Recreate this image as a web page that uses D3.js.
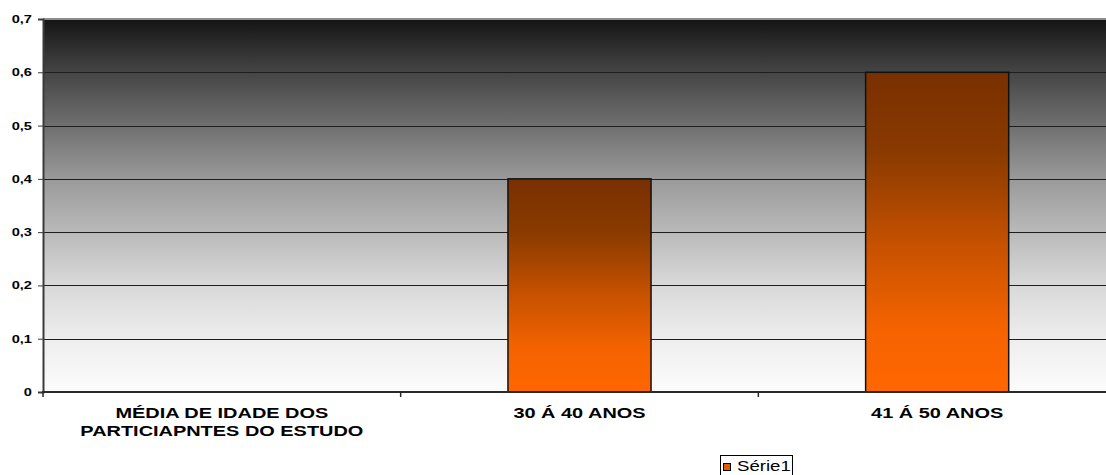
<!DOCTYPE html>
<html>
<head>
<meta charset="utf-8">
<script src="https://cdn.jsdelivr.net/npm/d3@7/dist/d3.min.js"></script>
<style>
  html, body { margin: 0; padding: 0; background: #fff; }
  svg { display: block; font-family: Arial, "Liberation Sans", sans-serif; }
</style>
</head>
<body>
<svg id="svg" width="1106" height="475"></svg>
<script>
var categories = ["MÉDIA DE IDADE DOS PARTICIAPNTES DO ESTUDO", "30 Á 40 ANOS", "41 Á 50 ANOS"];
var labelLines = [["MÉDIA DE IDADE DOS", "PARTICIAPNTES DO ESTUDO"], ["30 Á 40 ANOS"], ["41 Á 50 ANOS"]];
var serie1 = [0, 0.4, 0.6];
var yTicks = [0, 0.1, 0.2, 0.3, 0.4, 0.5, 0.6, 0.7];
var seriesName = "Série1";

var svg = d3.select("#svg");
var plot = {left: 43, top: 19, bottom: 392, right: 1116};
var stretch = 1.33; // text in the original is drawn wide

var xScale = d3.scaleBand()
    .domain(categories)
    .range([plot.left, plot.right]);

var yScale = d3.scaleLinear()
    .domain([0, 0.7])
    .range([plot.bottom, plot.top]);

var defs = svg.append("defs");
var bg = defs.append("linearGradient").attr("id", "bgGrad")
    .attr("x1", 0).attr("y1", 0).attr("x2", 0).attr("y2", 1);
[[0, "#141414"], [0.14, "#444444"], [0.43, "#9a9a9a"], [0.7, "#d6d6d6"], [0.86, "#eeeeee"], [1, "#fcfcfc"]]
    .forEach(function(s) { bg.append("stop").attr("offset", s[0]).attr("stop-color", s[1]); });

var barGrad = defs.append("linearGradient").attr("id", "barGrad")
    .attr("x1", 0).attr("y1", 0).attr("x2", 0).attr("y2", 1);
[[0, "#793000"], [0.25, "#8a3a00"], [0.55, "#c85200"], [0.8, "#f56300"], [1, "#ff6600"]]
    .forEach(function(s) { barGrad.append("stop").attr("offset", s[0]).attr("stop-color", s[1]); });

// plot background
svg.append("rect")
    .attr("x", plot.left).attr("y", plot.top)
    .attr("width", plot.right - plot.left)
    .attr("height", plot.bottom - plot.top)
    .attr("fill", "url(#bgGrad)");

// top border
svg.append("line")
    .attr("x1", plot.left).attr("x2", plot.right)
    .attr("y1", plot.top).attr("y2", plot.top)
    .attr("stroke", "#8c8c8c").attr("stroke-width", 2);

// gridlines
svg.append("g")
    .selectAll("line")
    .data(yTicks.filter(function(d) { return d > 0 && d < 0.7; }))
    .enter().append("line")
    .attr("x1", plot.left).attr("x2", plot.right)
    .attr("y1", function(d) { return Math.round(yScale(d)) + 0.5; })
    .attr("y2", function(d) { return Math.round(yScale(d)) + 0.5; })
    .attr("stroke", "#1e1e1e").attr("stroke-width", 1);

// bars
var barData = categories.map(function(c, i) { return {cat: c, value: serie1[i]}; })
    .filter(function(d) { return d.value > 0; });
var barW = xScale.bandwidth() * 0.4;
svg.append("g")
    .selectAll("rect")
    .data(barData)
    .enter().append("rect")
    .attr("x", function(d) { return xScale(d.cat) + (xScale.bandwidth() - barW) / 2; })
    .attr("y", function(d) { return yScale(d.value); })
    .attr("width", barW)
    .attr("height", function(d) { return plot.bottom - yScale(d.value); })
    .attr("fill", "url(#barGrad)")
    .attr("stroke", "#111")
    .attr("stroke-width", 1.5);

// y axis
var yAxis = svg.append("g")
    .attr("transform", "translate(" + plot.left + ",0)")
    .call(d3.axisLeft(yScale)
        .tickValues(yTicks)
        .tickSize(5)
        .tickFormat(function(d) { return String(d).replace(".", ","); }));
yAxis.select(".domain").attr("stroke", "#3a3a3a").attr("stroke-width", 2);
yAxis.selectAll(".tick line").attr("stroke", "#3a3a3a");
yAxis.selectAll("text")
    .attr("x", -11 / stretch)
    .attr("transform", "scale(" + stretch + ",1)")
    .attr("font-size", 11).attr("font-weight", "bold").attr("fill", "#000")
    .attr("font-family", "Arial, 'Liberation Sans', sans-serif");

// x axis line
svg.append("line")
    .attr("x1", plot.left - 1).attr("x2", plot.right)
    .attr("y1", plot.bottom).attr("y2", plot.bottom)
    .attr("stroke", "#2a2a2a").attr("stroke-width", 2);

// x ticks at category boundaries
var bounds = categories.map(function(c) { return xScale(c); }).concat([plot.right]);
svg.append("g")
    .selectAll("line")
    .data(bounds)
    .enter().append("line")
    .attr("x1", function(d) { return d; }).attr("x2", function(d) { return d; })
    .attr("y1", plot.bottom).attr("y2", plot.bottom + 5)
    .attr("stroke", "#2a2a2a").attr("stroke-width", 1.5);

// x labels
svg.append("g")
    .selectAll("text")
    .data(categories)
    .enter().append("text")
    .attr("transform", function(d) {
        return "translate(" + (xScale(d) + xScale.bandwidth() / 2) + ",418) scale(" + stretch + ",1)";
    })
    .attr("text-anchor", "middle")
    .attr("font-size", 15).attr("font-weight", "bold").attr("fill", "#000")
    .each(function(d, i) {
        var t = d3.select(this);
        labelLines[i].forEach(function(line, j) {
            t.append("tspan")
                .attr("x", 0)
                .attr("dy", j === 0 ? 0 : 18)
                .text(line);
        });
    });

// legend
var lg = svg.append("g").attr("transform", "translate(720,455)");
lg.append("rect")
    .attr("x", 0.5).attr("y", 0.5).attr("width", 72).attr("height", 24)
    .attr("fill", "#fff").attr("stroke", "#000").attr("stroke-width", 1);
lg.append("rect")
    .attr("x", 3.5).attr("y", 8.5).attr("width", 7).attr("height", 7)
    .attr("fill", "#e05a00").attr("stroke", "#000").attr("stroke-width", 1);
lg.append("text")
    .attr("transform", "translate(17,16) scale(" + stretch + ",1)")
    .attr("font-size", 14).attr("fill", "#000")
    .text(seriesName);
</script>
</body>
</html>
